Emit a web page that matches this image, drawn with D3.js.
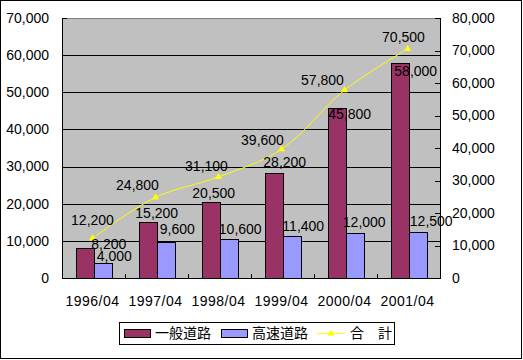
<!DOCTYPE html>
<html>
<head>
<meta charset="utf-8">
<script src="https://cdn.jsdelivr.net/npm/d3@7"></script>
<style>
  body { margin: 0; background: #fff; }
  text { font-family: "Liberation Sans", Arial, sans-serif; font-size: 14px; fill: #000; }
  .jp { font-family: "Noto Sans CJK JP", sans-serif; font-size: 14px; }
</style>
</head>
<body>
<script>
const categories = ["1996/04", "1997/04", "1998/04", "1999/04", "2000/04", "2001/04"];
const generalRoads = [8200, 15200, 20500, 28200, 45800, 58000];
const expressways = [4000, 9600, 10600, 11400, 12000, 12500];
const totals = [12200, 24800, 31100, 39600, 57800, 70500];
const leftTicks = [0, 10000, 20000, 30000, 40000, 50000, 60000, 70000];
const rightTicks = [0, 10000, 20000, 30000, 40000, 50000, 60000, 70000, 80000];
const seriesNames = ["一般道路", "高速道路", "合　計"];
const seriesColors = ["#993366", "#9999FF", "#FFFF00"];

// label placement nudges (style only): [dx, dy] relative to the mark anchor
const generalLabelNudge = [[24, -3], [9, -8], [3, -9], [11, -11], [13, 6], [16, 9]];
const expressLabelNudge = [[12, -7], [12, -13], [12, -10], [12, -10], [10, -11], [14, -10]];
const totalLabelNudge = [[0, -18], [-18, -12], [-12, -11], [-19, -9], [-22, -10], [-4, -12]];

const W = 523, H = 360;
const plot = { left: 62, right: 440, top: 18, bottom: 278 };
const fmt = d3.format(",");

const svg = d3.select("body").append("svg").attr("width", W).attr("height", H);

// outer border
svg.append("rect").attr("x", 0.5).attr("y", 0.5).attr("width", 521).attr("height", 358)
  .attr("fill", "#fff").attr("stroke", "#000");

const x = d3.scaleBand().domain(categories).range([plot.left, plot.right]);
const yL = d3.scaleLinear().domain([0, 70000]).range([plot.bottom, plot.top]);
const yR = d3.scaleLinear().domain([0, 80000]).range([plot.bottom, plot.top]);
const groupW = 35;
const xs = d3.scaleBand().domain([0, 1]).range([0, groupW]);

// plot background
svg.append("rect").attr("x", plot.left).attr("y", plot.top)
  .attr("width", plot.right - plot.left).attr("height", plot.bottom - plot.top)
  .attr("fill", "#C0C0C0");

// gridlines
svg.append("g").selectAll("line").data(leftTicks.filter(t => t > 0 && t < 70000)).join("line")
  .attr("x1", plot.left).attr("x2", plot.right)
  .attr("y1", d => Math.round(yL(d)) + 0.5).attr("y2", d => Math.round(yL(d)) + 0.5)
  .attr("stroke", "#000");
// top border (gray)
svg.append("line").attr("x1", plot.left).attr("x2", plot.right)
  .attr("y1", plot.top + 0.5).attr("y2", plot.top + 0.5).attr("stroke", "#808080");

// bars
const series = [generalRoads, expressways];
const barX = (i, si) => x(categories[i]) + (x.bandwidth() - groupW) / 2 + xs(si);
series.forEach((vals, si) => {
  svg.append("g").selectAll("rect").data(vals).join("rect")
    .attr("x", (d, i) => Math.round(barX(i, si)) + 0.5)
    .attr("y", d => Math.round(yL(d)) + 0.5)
    .attr("width", Math.round(xs.bandwidth()))
    .attr("height", d => Math.round(yL(0)) - Math.round(yL(d)))
    .attr("fill", seriesColors[si]).attr("stroke", "#000");
});

// axes lines
svg.append("line").attr("x1", plot.left + 0.5).attr("x2", plot.left + 0.5)
  .attr("y1", plot.top).attr("y2", plot.bottom + 1).attr("stroke", "#000");
svg.append("line").attr("x1", plot.right + 0.5).attr("x2", plot.right + 0.5)
  .attr("y1", plot.top).attr("y2", plot.bottom + 1).attr("stroke", "#000");
svg.append("line").attr("x1", plot.left).attr("x2", plot.right + 1)
  .attr("y1", plot.bottom + 0.5).attr("y2", plot.bottom + 0.5).attr("stroke", "#000");

// ticks (inside)
svg.append("g").selectAll("line").data(leftTicks).join("line")
  .attr("x1", plot.left).attr("x2", plot.left + 5)
  .attr("y1", d => Math.round(yL(d)) + 0.5).attr("y2", d => Math.round(yL(d)) + 0.5).attr("stroke", "#000");
svg.append("g").selectAll("line").data(rightTicks).join("line")
  .attr("x1", plot.right - 5).attr("x2", plot.right)
  .attr("y1", d => Math.round(yR(d)) + 0.5).attr("y2", d => Math.round(yR(d)) + 0.5).attr("stroke", "#000");
svg.append("g").selectAll("line").data(categories.slice(1)).join("line")
  .attr("x1", d => Math.round(x(d)) + 0.5).attr("x2", d => Math.round(x(d)) + 0.5)
  .attr("y1", plot.bottom - 4).attr("y2", plot.bottom).attr("stroke", "#000");

// axis labels
svg.append("g").selectAll("text").data(leftTicks).join("text")
  .attr("x", 49).attr("y", d => yL(d)).attr("text-anchor", "end").attr("dy", "0.35em")
  .text(d => fmt(d));
svg.append("g").selectAll("text").data(rightTicks).join("text")
  .attr("x", 452).attr("y", d => yR(d)).attr("text-anchor", "start").attr("dy", "0.35em")
  .text(d => fmt(d));
svg.append("g").selectAll("text").data(categories).join("text")
  .attr("x", d => x(d) + x.bandwidth() / 2 - 1).attr("y", 301).attr("dy", "0.35em")
  .attr("text-anchor", "middle").style("letter-spacing", "0.5px")
  .text(d => d);

// total line
const cx = c => x(c) + x.bandwidth() / 2 - 1;
const line = d3.line().x((d, i) => cx(categories[i])).y(d => yR(d)).curve(d3.curveCatmullRom.alpha(0.5));
svg.append("path").attr("d", line(totals)).attr("fill", "none").attr("stroke", seriesColors[2]).attr("stroke-width", 1);
const tri = d3.symbol(d3.symbolTriangle, 22);
svg.append("g").selectAll("path").data(totals).join("path")
  .attr("d", tri).attr("transform", (d, i) => `translate(${cx(categories[i])},${yR(d)})`)
  .attr("fill", seriesColors[2]);

// data labels
const nudges = [generalLabelNudge, expressLabelNudge];
series.forEach((vals, si) => {
  svg.append("g").selectAll("text").data(vals).join("text")
    .attr("x", (d, i) => barX(i, si) + xs.bandwidth() / 2 + nudges[si][i][0])
    .attr("y", (d, i) => yL(d) + nudges[si][i][1]).attr("dy", "0.35em").attr("text-anchor", "middle")
    .text(d => fmt(d));
});
svg.append("g").selectAll("text").data(totals).join("text")
  .attr("x", (d, i) => cx(categories[i]) + totalLabelNudge[i][0])
  .attr("y", (d, i) => yR(d) + totalLabelNudge[i][1]).attr("dy", "0.35em").attr("text-anchor", "middle")
  .text(d => fmt(d));

// legend
const lg = svg.append("g");
lg.append("rect").attr("x", 119.5).attr("y", 322.5).attr("width", 275).attr("height", 22)
  .attr("fill", "#fff").attr("stroke", "#000");
const legendItems = [
  { name: seriesNames[0], color: seriesColors[0], type: "bar", sx: 124, tx: 155 },
  { name: seriesNames[1], color: seriesColors[1], type: "bar", sx: 221, tx: 252 },
  { name: seriesNames[2], color: seriesColors[2], type: "line", sx: 317, tx: 350 }
];
legendItems.forEach(it => {
  if (it.type === "bar") {
    lg.append("rect").attr("x", it.sx + 0.5).attr("y", 329.5).attr("width", 26).attr("height", 8)
      .attr("fill", it.color).attr("stroke", "#000");
  } else {
    lg.append("line").attr("x1", it.sx).attr("x2", it.sx + 27).attr("y1", 333.5).attr("y2", 333.5)
      .attr("stroke", it.color);
    lg.append("path").attr("d", tri).attr("transform", `translate(${it.sx + 14},333.5)`).attr("fill", it.color);
  }
  lg.append("text").attr("class", "jp").attr("x", it.tx).attr("y", 333.5).attr("dy", "0.35em").text(it.name);
});
</script>
</body>
</html>
